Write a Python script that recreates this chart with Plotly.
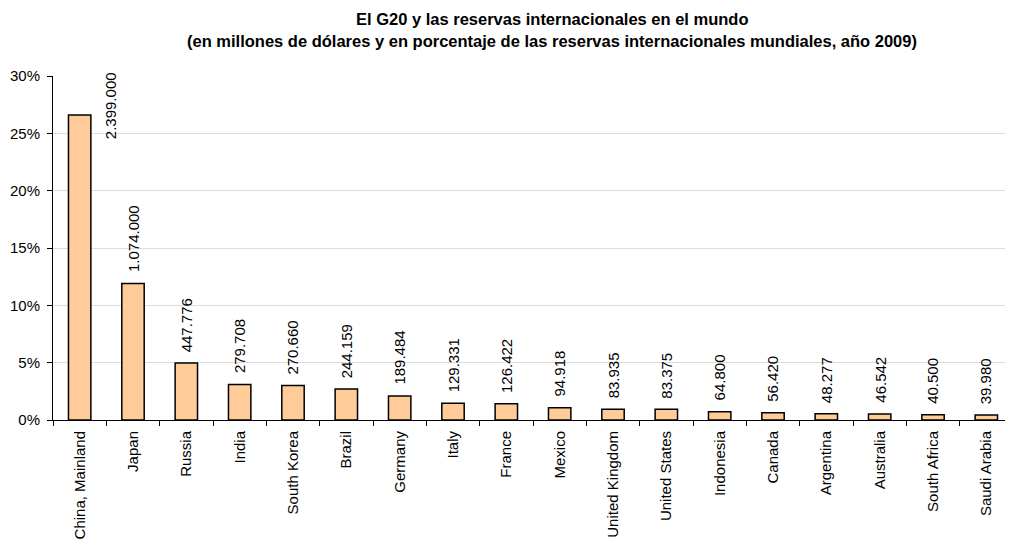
import plotly.graph_objects as go

countries = ["China, Mainland", "Japan", "Russia", "India", "South Korea", "Brazil",
             "Germany", "Italy", "France", "Mexico", "United Kingdom", "United States",
             "Indonesia", "Canada", "Argentina", "Australia", "South Africa", "Saudi Arabia"]
reserves_musd = [2399000, 1074000, 447776, 279708, 270660, 244159, 189484, 129331, 126422,
                 94918, 83935, 83375, 64800, 56420, 48277, 46542, 40500, 39980]
share_pct = [26.6, 11.9, 4.97, 3.1, 3.0, 2.7, 2.1, 1.45, 1.42, 1.06, 0.93, 0.93,
             0.72, 0.63, 0.54, 0.52, 0.45, 0.44]
y_ticks = [0, 5, 10, 15, 20, 25, 30]
title_lines = ["El G20 y las reservas internacionales en el mundo",
               "(en millones de dólares y en porcentaje de las reservas internacionales mundiales, año 2009)"]

FONT = "Liberation Sans, Arial, sans-serif"

# page body has an 8px margin: shrink the figure so the plot lands where the reference has it
W, H = 1005, 537
ML, MR, MT, MB = 45, 0, 68, 125
plot_h = H - MT - MB

fig = go.Figure()
fig.add_trace(go.Bar(
    x=countries, y=share_pct,
    marker=dict(color="#FFCC99", line=dict(color="#000000", width=1.5)),
    hoverinfo="skip",
))

for i, (c, v, p) in enumerate(zip(countries, reserves_musd, share_pct)):
    txt = f"{v:,}".replace(",", ".")
    if i == 0:
        fig.add_annotation(x=c, y=y_ticks[-1], text=txt, textangle=-90, showarrow=False,
                           xanchor="center", yanchor="top", xshift=31, yshift=6,
                           font=dict(family=FONT, size=15, color="#000"))
    else:
        fig.add_annotation(x=c, y=p, text=txt, textangle=-90, showarrow=False,
                           xanchor="center", yanchor="bottom", yshift=9,
                           font=dict(family=FONT, size=15, color="#000"))

# title lines, centred at fig-pixel rows 10 and 33
for line, row in zip(title_lines, [10.5, 33.5]):
    fig.add_annotation(xref="paper", yref="paper", x=0.52, y=1 + (MT - row) / plot_h,
                       text=f"<b>{line}</b>", showarrow=False,
                       xanchor="center", yanchor="middle",
                       font=dict(family=FONT, size=16.5, color="#000"))

fig.update_layout(
    width=W, height=H,
    margin=dict(l=ML, r=MR, t=MT, b=MB, autoexpand=False),
    paper_bgcolor="white", plot_bgcolor="white",
    bargap=0.58,
    showlegend=False,
    font=dict(family=FONT, size=15, color="#000"),
)
fig.update_xaxes(
    type="category", tickangle=-90, showgrid=False, automargin=False,
    showline=True, linecolor="#000", linewidth=1,
    ticks="outside", ticklen=5, tickcolor="#000", tickson="boundaries",
    ticklabelstandoff=4,
    tickfont=dict(family=FONT, size=15, color="#000"),
)
fig.update_yaxes(
    range=[0, 30], tickvals=y_ticks, ticktext=[f"{t}%" for t in y_ticks],
    showgrid=True, gridcolor="#dcdcdc", gridwidth=1, automargin=False,
    showline=True, linecolor="#000", linewidth=1,
    ticks="outside", ticklen=5, tickcolor="#000",
    ticklabelstandoff=4,
    tickfont=dict(family=FONT, size=15, color="#000"),
    zeroline=False,
)

fig.write_html("out.html")
